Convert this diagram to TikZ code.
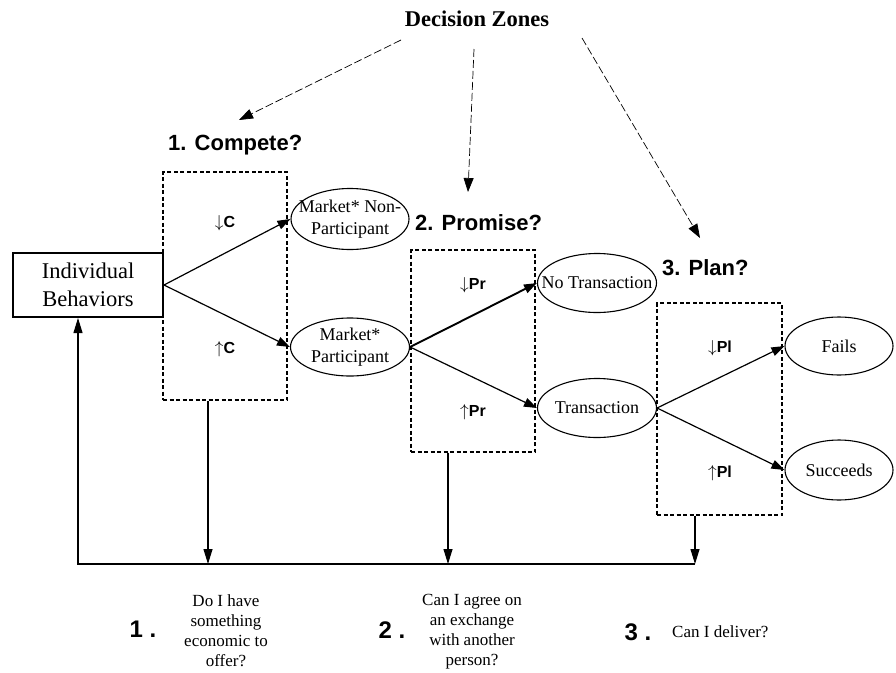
\documentclass[tikz,border=0pt]{standalone}
\usepackage{fontspec}
\setmainfont{Liberation Serif}
\setsansfont{Liberation Sans}
\usetikzlibrary{arrows.meta,shapes.geometric,calc}
\newcommand\lvlarr[2]{{\fontsize{19}{20}\selectfont$#1$}\textsf{\textbf{\fontsize{16}{18}\selectfont #2}}}
\begin{document}
\begin{tikzpicture}[x=1pt,y=-1pt,
  etext/.style={font=\fontsize{18}{21.5}\selectfont,align=center,inner sep=0pt},
  ell/.style={draw,ellipse,line width=1.1pt,minimum width=119pt,minimum height=59pt,inner sep=0pt},
  zonebox/.style={draw,line width=1.1pt,dash pattern=on 4pt off 2.5pt,inner sep=0pt},
  head/.style={font=\sffamily\bfseries\fontsize{22}{26}\selectfont,inner sep=0pt},
  lvl/.style={inner sep=0pt},
  num/.style={font=\sffamily\bfseries\fontsize{24}{28}\selectfont,inner sep=0pt},
  qtext/.style={font=\fontsize{17}{20}\selectfont,align=center,inner sep=0pt},
  flow/.style={line width=1.2pt,-{Triangle[length=13pt,width=9pt]}},
  fb/.style={line width=1.1pt,-{Triangle[length=15pt,width=9pt]}},
  dz/.style={line width=0.7pt,dash pattern=on 8pt off 3pt,-{Triangle[length=14pt,width=10pt]}}
]
\useasboundingbox (0,0) rectangle (896,672);

% title
\node[font=\bfseries\fontsize{22.5}{26}\selectfont,inner sep=0pt] (title) at (477,19) {Decision Zones};

% zone boxes
\node[zonebox,minimum width=124pt,minimum height=228pt] (b1) at (225,286) {};
\node[zonebox,minimum width=124pt,minimum height=202pt] (b2) at (473,351) {};
\node[zonebox,minimum width=125pt,minimum height=212pt] (b3) at (719.5,409) {};

% headings
\node[head,anchor=west] (h1) at (168,145) {1. Compete?};
\node[head,anchor=west] (h2) at (415,223) {2. Promise?};
\node[head,anchor=west] (h3) at (662,268) {3. Plan?};

% level labels
\node[lvl] (c1) at (225,223) {\lvlarr{\downarrow}{C}};
\node[lvl] (c2) at (225,349) {\lvlarr{\uparrow}{C}};
\node[lvl] (p1) at (473,285) {\lvlarr{\downarrow}{Pr}};
\node[lvl] (p2) at (473,412) {\lvlarr{\uparrow}{Pr}};
\node[lvl] (l1) at (720,348) {\lvlarr{\downarrow}{Pl}};
\node[lvl] (l2) at (720,473) {\lvlarr{\uparrow}{Pl}};

% main nodes
\node[draw,line width=2pt,minimum width=150pt,minimum height=64pt,inner sep=0pt,align=center,font=\fontsize{22.5}{28.5}\selectfont] (ib) at (88,285) {Individual\\Behaviors};
\node[ell,minimum width=118pt,minimum height=61pt,label={[etext]center:Market* Non-\\Participant}] (mnp) at (350,219) {};
\node[ell,minimum height=58pt,label={[etext]center:Market*\\Participant}] (mp) at (350,347) {};
\node[ell,label={[etext]center:No Transaction}] (nt) at (597,283) {};
\node[ell,label={[etext]center:Transaction}] (tr) at (597,408) {};
\node[ell,minimum width=108pt,minimum height=58pt,label={[etext]center:Fails}] (fa) at (839,346) {};
\node[ell,minimum width=108pt,minimum height=60pt,label={[etext]center:Succeeds}] (su) at (839,470) {};

% flow arrows
\draw[flow] (ib.east) -- (mnp.west);
\draw[flow] (ib.east) -- (mp.west);
\draw[flow,line width=1.9pt] (mp.east) -- (nt.west);
\draw[flow] (mp.east) -- (tr.west);
\draw[flow] (tr.east) -- (fa.west);
\draw[flow] (tr.east) -- (su.west);

% decision zone arrows
\coordinate (d1s) at (401,40);
\coordinate (d1e) at (239,120);
\coordinate (d2s) at (474,49);
\coordinate (d2e) at (468,192);
\coordinate (d3s) at (582,38);
\coordinate (d3e) at (700,238);
\draw[dz] (d1s) -- (d1e);
\draw[dz] (d2s) -- (d2e);
\draw[dz] (d3s) -- (d3e);

% feedback
\coordinate (f1) at (208,564);
\coordinate (f2) at (448,564);
\coordinate (f3) at (695,564);
\coordinate (fl) at (78,564);
\draw[fb] (f1 |- b1.south) -- (f1);
\draw[fb] (f2 |- b2.south) -- (f2);
\draw[fb] (f3 |- b3.south) -- (f3);
\draw[fb] (f3) -- (fl) -- (fl |- ib.south);

% bottom questions
\node[num] (n1) at (143,629) {1 .};
\node[qtext] (q1) at (226,631) {Do I have\\something\\economic to\\offer?};
\node[num] (n2) at (392,630) {2 .};
\node[qtext] (q2) at (472,632) {Can I agree on\\an exchange\\with another\\person?};
\node[num] (n3) at (638,632) {3 .};
\node[qtext,anchor=west] (q3) at (672,632) {Can I deliver?};
\end{tikzpicture}
\end{document}
